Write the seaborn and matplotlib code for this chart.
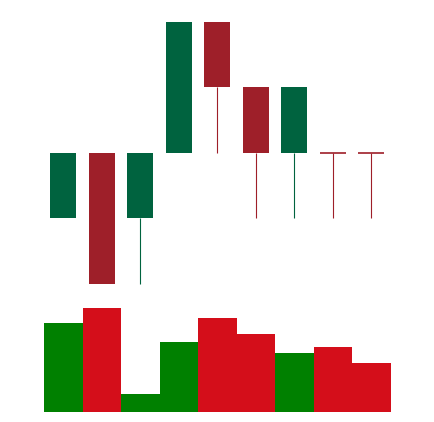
"""Candlestick chart with volume bars underneath."""
import matplotlib
matplotlib.use("Agg")
import matplotlib.pyplot as plt
import seaborn as sns
import pandas as pd

# Data (price levels and volumes)
days = ["1", "2", "3", "4", "5", "6", "7", "8", "9"]
opens = [1, 2, 1, 2, 4, 3, 2, 2, 2]
closes = [2, 0, 2, 4, 3, 2, 3, 2, 2]
highs = [2, 2, 2, 4, 4, 3, 3, 2, 2]
lows = [1, 0, 0, 2, 2, 1, 1, 1, 1]
volumes = [89, 104, 18, 70, 94, 78, 59, 65, 49]

CANDLE_UP = "#00633F"
CANDLE_DOWN = "#9E1F29"
VOL_UP = "#008000"
VOL_DOWN = "#D40E1A"

df = pd.DataFrame({
    "day": days, "open": opens, "close": closes,
    "high": highs, "low": lows, "volume": volumes,
})
df["direction"] = ["up" if c > o else "down" for o, c in zip(df["open"], df["close"])]

sns.set_theme(style="white")
fig = plt.figure(figsize=(4.34, 4.22), dpi=100)
ax_price = fig.add_axes([0.1014, 0.327, 0.7988, 0.621])
ax_vol = fig.add_axes([0.1014, 0.0244, 0.7988, 0.2465])

# Volume bars
sns.barplot(
    data=df, x="day", y="volume", hue="direction",
    palette={"up": VOL_UP, "down": VOL_DOWN}, saturation=1,
    width=1.0, dodge=False, linewidth=0, legend=False, ax=ax_vol,
)
ax_vol.set_xlim(-0.5, len(days) - 0.5)
ax_vol.set_ylim(0, max(volumes))

# Candles
body_w = 0.675
for i, row in df.iterrows():
    color = CANDLE_UP if row["direction"] == "up" else CANDLE_DOWN
    lo, hi = sorted([row["open"], row["close"]])
    # wicks only outside the body
    if row["low"] < lo:
        ax_price.vlines(i, row["low"], lo, color=color, linewidth=0.8,
                        clip_on=False, zorder=1)
    if row["high"] > hi:
        ax_price.vlines(i, hi, row["high"], color=color, linewidth=0.8,
                        clip_on=False, zorder=1)
    if hi > lo:
        ax_price.bar(i, hi - lo, bottom=lo, width=body_w, color=color,
                     linewidth=0, clip_on=False, zorder=2)
    else:
        ax_price.hlines(lo, i - body_w / 2, i + body_w / 2, color=color,
                        linewidth=1.2, clip_on=False, zorder=2)
ax_price.set_xlim(-0.5, len(days) - 0.5)
ax_price.set_ylim(0, 4)

for ax in (ax_price, ax_vol):
    ax.set_axis_off()

fig.savefig("out.png", dpi=100, facecolor="white")
